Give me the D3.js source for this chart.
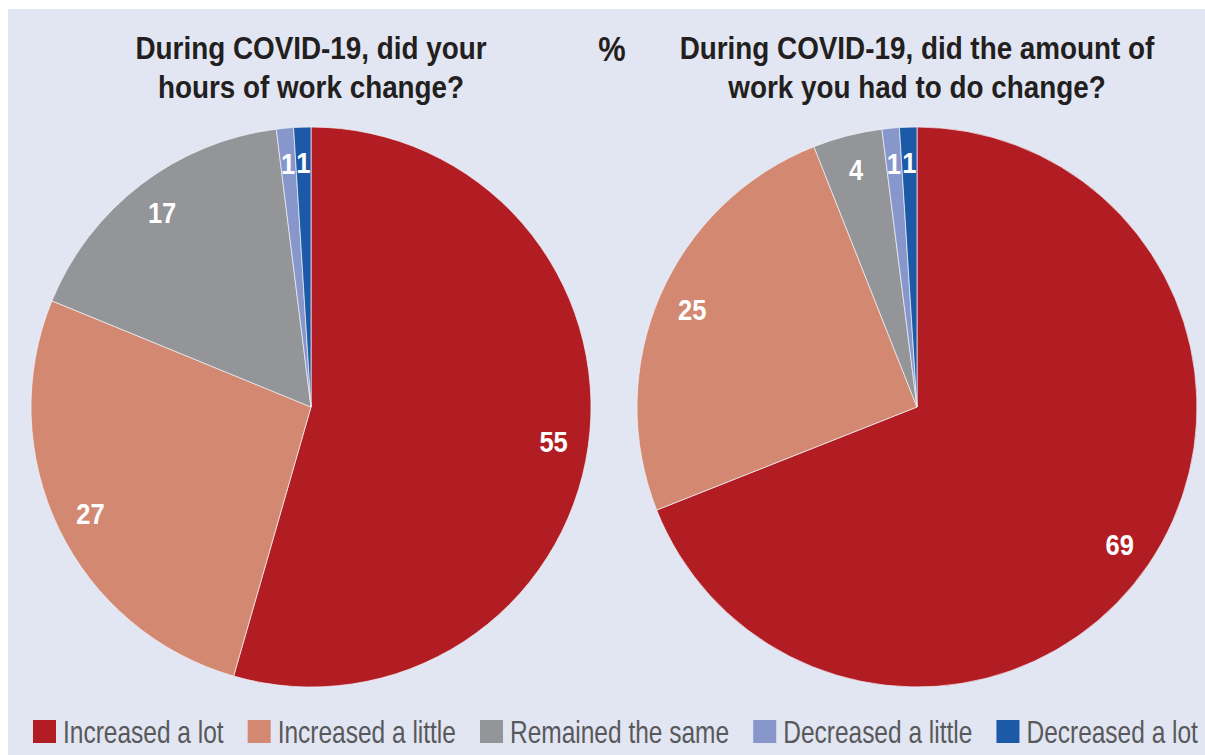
<!DOCTYPE html>
<html>
<head>
<meta charset="utf-8">
<script src="https://cdn.jsdelivr.net/npm/d3@7"></script>
<style>
  html, body { margin: 0; padding: 0; background: #ffffff; }
  svg { display: block; }
  text { font-family: "Liberation Sans", Arial, sans-serif; }
</style>
</head>
<body>
<svg id="chart" width="1205" height="755"></svg>
<script>
// Response categories shared by both pies
const categories = ["Increased a lot", "Increased a little", "Remained the same", "Decreased a little", "Decreased a lot"];
const colors = ["#b21d24", "#d38872", "#939598", "#8797cb", "#1c5aa8"];

// Percent of respondents
const hoursValues = [55, 27, 17, 1, 1];
const workloadValues = [69, 25, 4, 1, 1];

const hoursTitle = ["During COVID-19, did your", "hours of work change?"];
const workloadTitle = ["During COVID-19, did the amount of", "work you had to do change?"];
const unitLabel = "%";

const W = 1205, H = 755;
const svg = d3.select("#chart");

// horizontally condensed text (narrow sans look)
function narrowText(parent, x, y, str, opts) {
  const g = parent.append("g").attr("transform", `translate(${x},${y}) scale(${opts.sx},1)`);
  return g.append("text")
    .attr("text-anchor", opts.anchor || "start")
    .attr("dy", opts.dy || 0)
    .attr("font-size", opts.size)
    .attr("font-weight", opts.weight || "normal")
    .attr("fill", opts.fill)
    .text(str);
}

// panel background
svg.append("rect").attr("x", 8).attr("y", 9).attr("width", W - 8).attr("height", H - 9).attr("fill", "#e2e5f2");

const radius = 280;
const color = d3.scaleOrdinal().domain(categories).range(colors);
const pie = d3.pie().sort(null).value(d => d.value);
const arc = d3.arc().innerRadius(0).outerRadius(radius);
const labelArc = d3.arc().innerRadius(radius * 0.875).outerRadius(radius * 0.875);

function drawPie(cx, cy, values, titleLines) {
  const data = categories.map((c, i) => ({ category: c, value: values[i] }));
  const g = svg.append("g").attr("transform", `translate(${cx},${cy})`);
  const arcs = pie(data);
  g.selectAll("path.slice").data(arcs).join("path")
    .attr("class", "slice")
    .attr("d", arc)
    .attr("fill", d => color(d.data.category))
    .attr("stroke", "#f2f3f8")
    .attr("stroke-width", 0.7);
  arcs.forEach(d => {
    const [lx, ly] = labelArc.centroid(d);
    narrowText(g, lx, ly, d.data.value, { sx: 0.88, anchor: "middle", dy: "0.36em", size: 29, weight: "bold", fill: "#ffffff" });
  });

  titleLines.forEach((line, i) => {
    narrowText(svg, cx, 59 + i * 38.5, line, { sx: 0.87, anchor: "middle", size: 32, weight: "bold", fill: "#231f20" });
  });
}

drawPie(311, 407, hoursValues, hoursTitle);
drawPie(917, 407, workloadValues, workloadTitle);

narrowText(svg, 612, 61, unitLabel, { sx: 0.88, anchor: "middle", size: 35, weight: "bold", fill: "#231f20" });

// legend laid out left to right, condensed so that the row spans the panel
const legend = svg.append("g");
const legendStart = 33, legendEnd = 1198, swatch = 23, swatchGap = 7, itemGap = 24;
const items = categories.map(c => {
  legend.append("rect").attr("y", 720).attr("width", swatch).attr("height", swatch).attr("fill", color(c));
  const txt = narrowText(legend, 0, 743, c, { sx: 1, size: 31, fill: "#58595b" });
  return { c, txt, w: txt.node().getComputedTextLength() };
});
const totalText = d3.sum(items, d => d.w);
const legendSx = (legendEnd - legendStart - categories.length * (swatch + swatchGap) - (categories.length - 1) * itemGap) / totalText;
let lx = legendStart;
legend.selectAll("rect").each(function (_, i) {
  const it = items[i];
  d3.select(this).attr("x", lx);
  d3.select(it.txt.node().parentNode).attr("transform", `translate(${lx + swatch + swatchGap},743) scale(${legendSx},1)`);
  it.txt.attr("y", 0);
  lx += swatch + swatchGap + it.w * legendSx + itemGap;
});
legend.selectAll("text").attr("y", 0);
</script>
</body>
</html>
